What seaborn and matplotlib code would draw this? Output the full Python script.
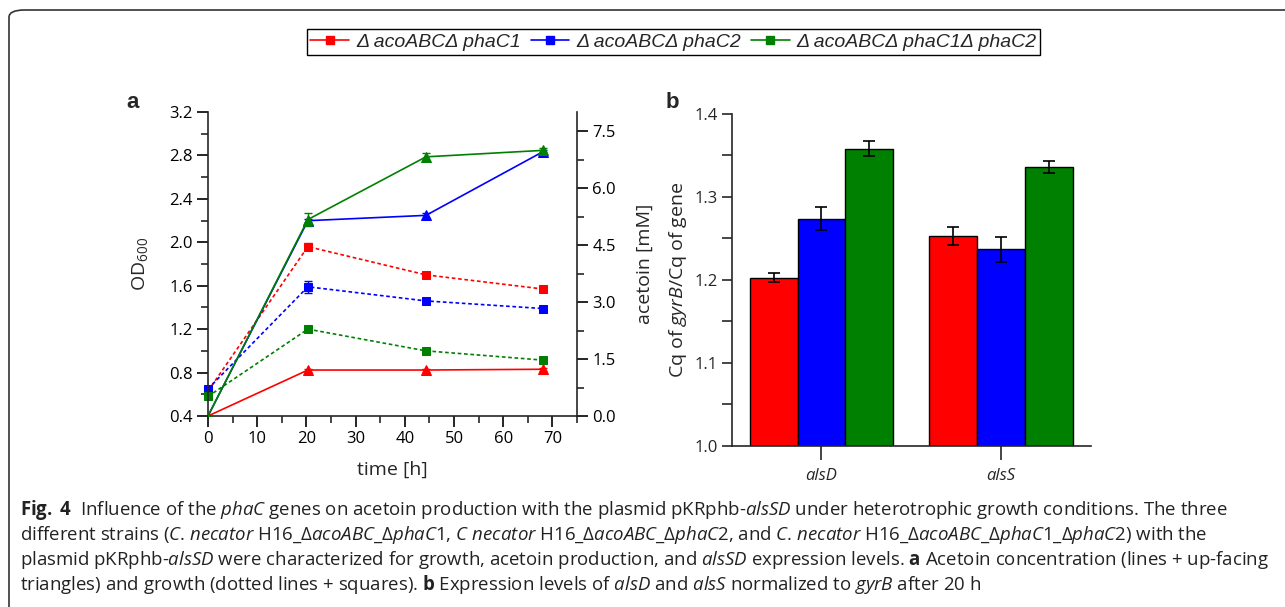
import numpy as np
import pandas as pd
import matplotlib
matplotlib.use("Agg")
import matplotlib.pyplot as plt
import seaborn as sns
from matplotlib.lines import Line2D
from matplotlib.patches import FancyBboxPatch
from matplotlib.ticker import MultipleLocator, FormatStrFormatter

# panel a data
time = [0, 20.3, 44.3, 68]
od_c1 = [0.63, 1.96, 1.70, 1.57]
od_c2 = [0.65, 1.59, 1.46, 1.39]
od_c12 = [0.58, 1.20, 1.00, 0.915]
od_err_c1 = [0.01, 0.03, 0.02, 0.02]
od_err_c2 = [0.01, 0.055, 0.02, 0.02]
od_err_c12 = [0.01, 0.02, 0.02, 0.02]
ace_c1 = [0.0, 1.21, 1.21, 1.23]
ace_c2 = [0.0, 5.14, 5.28, 6.95]
ace_c12 = [0.0, 5.17, 6.82, 6.99]
ace_err_c1 = [0.0, 0.04, 0.04, 0.04]
ace_err_c2 = [0.0, 0.05, 0.06, 0.06]
ace_err_c12 = [0.0, 0.18, 0.09, 0.05]

# panel b data
genes = ["alsD", "alsS"]
cq_c1 = [1.203, 1.253]
cq_c2 = [1.274, 1.237]
cq_c12 = [1.358, 1.336]
cq_err_c1 = [0.006, 0.011]
cq_err_c2 = [0.014, 0.015]
cq_err_c12 = [0.009, 0.0076]

strains = ["\u0394 acoABC\u0394 phaC1", "\u0394 acoABC\u0394 phaC2", "\u0394 acoABC\u0394 phaC1\u0394 phaC2"]
colors = ["#ff0000", "#0000ff", "#008000"]

sns.set_style("ticks")
plt.rcParams["font.family"] = ["Open Sans", "DejaVu Sans"]
plt.rcParams["mathtext.fontset"] = "custom"
plt.rcParams["mathtext.rm"] = "Open Sans"
plt.rcParams["mathtext.it"] = "Open Sans:italic"
plt.rcParams["mathtext.bf"] = "Open Sans:bold"

fig = plt.figure(figsize=(12.85, 6.07), dpi=100)

# border round the figure
fig.patches.append(FancyBboxPatch((9 / 1285, -0.2), 1.2, 1.2 - 10 / 607,
                                  boxstyle="round,pad=0,rounding_size=0.012",
                                  transform=fig.transFigure, fill=False,
                                  edgecolor="#333333", linewidth=1.2))

# ---- panel a ----
ax = fig.add_axes([208 / 1285, 1 - 416 / 607, 369 / 1285, 304 / 607])
ax2 = ax.twinx()

od_sets = [(od_c1, od_err_c1), (od_c2, od_err_c2), (od_c12, od_err_c12)]
ace_sets = [(ace_c1, ace_err_c1), (ace_c2, ace_err_c2), (ace_c12, ace_err_c12)]
for (od, oe), (ac, ae), c in zip(od_sets, ace_sets, colors):
    sns.lineplot(x=time, y=od, ax=ax, color=c, linestyle=(0, (2.2, 1.6)), linewidth=1.2,
                 marker="s", markersize=6, markeredgecolor=c, clip_on=False)
    ax.errorbar(time, od, yerr=oe, fmt="none", ecolor=c, elinewidth=1, capsize=3, clip_on=False)
    sns.lineplot(x=time, y=ac, ax=ax2, color=c, linewidth=1.2, marker="^", markersize=7.5,
                 markeredgecolor=c, markevery=[1, 2, 3])
    ax2.errorbar(time, ac, yerr=ae, fmt="none", ecolor=c, elinewidth=1, capsize=3)

ax.set_xlim(0, 75)
ax.set_ylim(0.4, 3.2)
ax2.set_ylim(0, 8)
ax.set_xticks([0, 10, 20, 30, 40, 50, 60, 70])
ax.xaxis.set_minor_locator(MultipleLocator(5))
ax.yaxis.set_major_locator(MultipleLocator(0.4))
ax.yaxis.set_minor_locator(MultipleLocator(0.2))
ax.yaxis.set_major_formatter(FormatStrFormatter("%.1f"))
ax2.yaxis.set_major_locator(MultipleLocator(1.5))
ax2.yaxis.set_minor_locator(MultipleLocator(0.75))
ax2.yaxis.set_major_formatter(FormatStrFormatter("%.1f"))

for a in (ax, ax2):
    a.spines["top"].set_visible(False)
    for s in a.spines.values():
        s.set_linewidth(1.2)
    a.tick_params(which="major", length=8, width=1.2, labelsize=12, colors="black", pad=3)
    a.tick_params(which="minor", length=5, width=1.2)
ax.spines["right"].set_visible(False)
ax2.spines["left"].set_visible(False)
ax2.spines["bottom"].set_visible(False)

ax.set_xlabel("time [h]", fontsize=14, labelpad=10)
ax.set_ylabel("OD$_{600}$", fontsize=14, labelpad=14)
ax2.set_ylabel("acetoin [mM]", fontsize=14, labelpad=14)
fig.text(133 / 1285, 1 - 103 / 607, "a", fontsize=16, fontweight="bold",
         family="Liberation Sans", ha="center", va="center")

# ---- panel b ----
axb = fig.add_axes([731.7 / 1285, 1 - 446 / 607, 359 / 1285, 332 / 607])
df = pd.DataFrame({
    "gene": genes * 3,
    "strain": [strains[0]] * 2 + [strains[1]] * 2 + [strains[2]] * 2,
    "cq": cq_c1 + cq_c2 + cq_c12,
})
sns.barplot(data=df, x="gene", y="cq", hue="strain", palette=colors, edgecolor="black",
            linewidth=1, errorbar=None, width=0.8, legend=False, saturation=1, ax=axb)
errs = [cq_err_c1, cq_err_c2, cq_err_c12]
for cont, e in zip(axb.containers, errs):
    xs = [b.get_x() + b.get_width() / 2 for b in cont]
    hs = [b.get_height() for b in cont]
    axb.errorbar(xs, hs, yerr=e, fmt="none", ecolor="black", elinewidth=1.2, capsize=4, capthick=1.2)

axb.set_xlim(-0.5, 1.5)
axb.set_ylim(1.0, 1.4)
axb.yaxis.set_major_locator(MultipleLocator(0.1))
axb.yaxis.set_minor_locator(MultipleLocator(0.05))
axb.yaxis.set_major_formatter(FormatStrFormatter("%.1f"))
axb.spines["top"].set_visible(False)
axb.spines["right"].set_visible(False)
for s in axb.spines.values():
    s.set_linewidth(1.2)
axb.tick_params(axis="y", which="major", length=7, width=1.2, labelsize=12, pad=3)
axb.tick_params(axis="y", which="minor", length=7, width=1.2)
axb.tick_params(axis="x", which="major", length=10, width=1.2, labelsize=12, pad=6)
for t in axb.get_xticklabels():
    t.set_fontstyle("italic")
axb.set_xlabel("")
axb.set_ylabel("Cq of $\\mathit{gyrB}$/Cq of gene", fontsize=14, labelpad=4)
fig.text(672 / 1285, 1 - 103 / 607, "b", fontsize=16, fontweight="bold",
         family="Liberation Sans", ha="center", va="center")

# ---- shared legend ----
handles = [Line2D([], [], color=c, linewidth=1.2, marker="s", markersize=6) for c in colors]
leg = fig.legend(handles, strains, loc="center", bbox_to_anchor=(673.5 / 1285, 1 - 42 / 607), ncol=3,
                 frameon=True, fancybox=False, edgecolor="black", framealpha=1,
                 prop={"family": "Liberation Sans", "style": "italic", "size": 14},
                 handlelength=2.0, handletextpad=0.35, columnspacing=0.5, borderpad=0.2,
                 borderaxespad=0)
leg.get_frame().set_linewidth(1.0)

# ---- caption ----
caption = [
    r"$\mathbf{Fig}$$\mathbf{.}$ $\mathbf{4}$  Influence of the $\mathit{phaC}$ genes on acetoin production with the plasmid pKRphb-$\mathit{alsSD}$ under heterotrophic growth conditions. The three",
    r"different strains ($\mathit{C}$. $\mathit{necator}$ H16_$\mathit{\Delta acoABC\_\Delta phaC1}$, $\mathit{C\ necator}$ H16_$\mathit{\Delta acoABC\_\Delta phaC2}$, and $\mathit{C}$. $\mathit{necator}$ H16_$\mathit{\Delta acoABC\_\Delta phaC1\_\Delta phaC2}$) with the",
    r"plasmid pKRphb-$\mathit{alsSD}$ were characterized for growth, acetoin production, and $\mathit{alsSD}$ expression levels. $\mathbf{a}$ Acetoin concentration (lines + up-facing",
    r"triangles) and growth (dotted lines + squares). $\mathbf{b}$ Expression levels of $\mathit{alsD}$ and $\mathit{alsS}$ normalized to $\mathit{gyrB}$ after 20 h",
]
for i, line in enumerate(caption):
    fig.text(20 / 1285, 1 - (510 + 25 * i) / 607, line, fontsize=13.4, ha="left", va="center",
             color="#222222")

fig.savefig("out.png", dpi=100)
